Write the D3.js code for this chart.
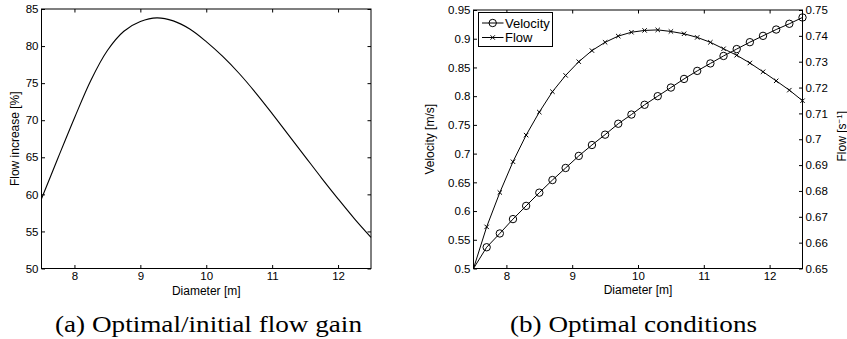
<!DOCTYPE html>
<html>
<head>
<meta charset="utf-8">
<script src="https://cdn.jsdelivr.net/npm/d3@7"></script>
<style>
  html, body { margin: 0; padding: 0; background: #fff; }
  svg { display: block; }
</style>
</head>
<body>
<script>
// Panel (a): flow increase vs diameter
const gainDiameter = [7.5, 7.75, 8.0, 8.25, 8.5, 8.75, 9.0, 9.25, 9.5, 9.75, 10.0,
  10.25, 10.5, 10.75, 11.0, 11.25, 11.5, 11.75, 12.0, 12.25, 12.5];
const gainPercent = [59.4, 64.9, 70.3, 75.4, 79.4, 82.0, 83.3, 83.8, 83.4, 82.3, 80.6,
  78.6, 76.3, 73.7, 70.9, 68.0, 65.1, 62.2, 59.4, 56.7, 54.2];

// Panel (b): optimal velocity and flow (first point has no marker)
const optDiameter = [7.5, 7.7, 7.9, 8.1, 8.3, 8.5, 8.7, 8.9, 9.1, 9.3, 9.5, 9.7, 9.9,
  10.1, 10.3, 10.5, 10.7, 10.9, 11.1, 11.3, 11.5, 11.7, 11.9, 12.1, 12.3, 12.5];
const optVelocity = [0.5, 0.537, 0.561, 0.586, 0.609, 0.632, 0.654, 0.675, 0.696, 0.715,
  0.733, 0.752, 0.768, 0.785, 0.800, 0.815, 0.830, 0.844, 0.857, 0.870, 0.882, 0.894,
  0.905, 0.916, 0.926, 0.937];
const optFlow = [0.65, 0.6661, 0.6794, 0.6913, 0.7016, 0.7105, 0.7184, 0.7247, 0.7300,
  0.7343, 0.7375, 0.7399, 0.7414, 0.7421, 0.7423, 0.7417, 0.7408, 0.7394, 0.7375, 0.7350,
  0.7325, 0.7295, 0.7261, 0.7226, 0.7190, 0.7149];

// Ticks
const xTicks = [8, 9, 10, 11, 12];
const gainTicks = [50, 55, 60, 65, 70, 75, 80, 85];
const velTicks = [0.5, 0.55, 0.6, 0.65, 0.7, 0.75, 0.8, 0.85, 0.9, 0.95];
const flowTicks = [0.65, 0.66, 0.67, 0.68, 0.69, 0.7, 0.71, 0.72, 0.73, 0.74, 0.75];

const captions = ["(a) Optimal/initial flow gain", "(b) Optimal conditions"];

const width = 847, height = 339;
const TICK = 3.5;
const sans = "'Liberation Sans', Arial, Helvetica, sans-serif";
const fmt = d => String(+d.toFixed(2));

const svg = d3.select("body").append("svg")
  .attr("width", width).attr("height", height)
  .attr("viewBox", [0, 0, width, height])
  .style("font-family", sans);

// box + inward ticks on all four sides
function frame(g, x, y, leftTicks, yRight, labelRight) {
  const [x0, x1] = x.range();
  const [y1, y0] = y.range();
  const style = sel => {
    sel.select(".domain").remove();
    sel.selectAll("line").attr("stroke", "#000").attr("stroke-width", 1);
    sel.selectAll("text").attr("fill", "#000").style("font-size", "11.5px").style("font-family", sans);
  };
  g.append("g").attr("transform", `translate(0,${y1})`)
    .call(d3.axisBottom(x).tickValues(xTicks).tickSize(-TICK).tickPadding(3).tickFormat(fmt)).call(style);
  g.append("g").attr("transform", `translate(0,${y0})`)
    .call(d3.axisTop(x).tickValues(xTicks).tickSize(-TICK).tickFormat("")).call(style);
  g.append("g").attr("transform", `translate(${x0},0)`)
    .call(d3.axisLeft(y).tickValues(leftTicks).tickSize(-TICK).tickPadding(3).tickFormat(fmt)).call(style);
  const r = g.append("g").attr("transform", `translate(${x1},0)`);
  if (labelRight) {
    r.call(d3.axisRight(yRight).tickValues(flowTicks).tickSize(-TICK).tickPadding(3).tickFormat(fmt)).call(style);
  } else {
    r.call(d3.axisRight(y).tickValues(leftTicks).tickSize(-TICK).tickFormat("")).call(style);
  }
  g.append("rect")
    .attr("x", x0).attr("y", y0).attr("width", x1 - x0).attr("height", y1 - y0)
    .attr("fill", "none").attr("stroke", "#000").attr("stroke-width", 1);
}

// ---------- Panel (a)
const xScaleA = d3.scaleLinear().domain([7.5, 12.5]).range([41.5, 371]);
const yScaleA = d3.scaleLinear().domain([50, 85]).range([268.5, 9]);
const gA = svg.append("g");

gA.append("path")
  .datum(gainDiameter.map((d, i) => [d, gainPercent[i]]))
  .attr("fill", "none").attr("stroke", "#000").attr("stroke-width", 1.1)
  .attr("d", d3.line().x(d => xScaleA(d[0])).y(d => yScaleA(d[1])).curve(d3.curveCatmullRom));

frame(gA, xScaleA, yScaleA, gainTicks, null, false);

gA.append("text")
  .attr("x", (41.5 + 371) / 2).attr("y", 294.5)
  .attr("text-anchor", "middle").style("font-size", "12px")
  .text("Diameter [m]");
gA.append("text")
  .attr("transform", `translate(19,${(9 + 268.5) / 2}) rotate(-90)`)
  .attr("text-anchor", "middle").style("font-size", "12px")
  .text("Flow increase [%]");

// ---------- Panel (b)
const xScaleB = d3.scaleLinear().domain([7.5, 12.5]).range([473.5, 802.5]);
const yScaleB = d3.scaleLinear().domain([0.5, 0.95]).range([268.5, 10]);
const yScaleF = d3.scaleLinear().domain([0.65, 0.75]).range([268.5, 10]);
const gB = svg.append("g");

const velPts = optDiameter.map((d, i) => [xScaleB(d), yScaleB(optVelocity[i])]);
const flowPts = optDiameter.map((d, i) => [xScaleB(d), yScaleF(optFlow[i])]);

gB.append("path").datum(velPts)
  .attr("fill", "none").attr("stroke", "#000").attr("stroke-width", 1)
  .attr("d", d3.line());
gB.append("path").datum(flowPts)
  .attr("fill", "none").attr("stroke", "#000").attr("stroke-width", 1)
  .attr("d", d3.line());

const circleMark = (sel, x, y) => sel.append("circle")
  .attr("cx", x).attr("cy", y).attr("r", 3.7)
  .attr("fill", "none").attr("stroke", "#000").attr("stroke-width", 1);
const crossMark = (sel, x, y) => sel.append("path")
  .attr("d", `M${x - 2.2},${y - 2.2}L${x + 2.2},${y + 2.2}M${x - 2.2},${y + 2.2}L${x + 2.2},${y - 2.2}`)
  .attr("stroke", "#000").attr("stroke-width", 1);

velPts.slice(1).forEach(p => circleMark(gB, p[0], p[1]));
flowPts.slice(1).forEach(p => crossMark(gB, p[0], p[1]));

frame(gB, xScaleB, yScaleB, velTicks, yScaleF, true);

gB.append("text")
  .attr("x", (473.5 + 802.5) / 2).attr("y", 293.5)
  .attr("text-anchor", "middle").style("font-size", "12px")
  .text("Diameter [m]");
gB.append("text")
  .attr("transform", `translate(434,${(10 + 268.5) / 2}) rotate(-90)`)
  .attr("text-anchor", "middle").style("font-size", "12px")
  .text("Velocity [m/s]");
const flowLabel = gB.append("text")
  .attr("transform", `translate(845.5,${(10 + 268.5) / 2 - 3}) rotate(-90)`)
  .attr("text-anchor", "middle").style("font-size", "12px");
flowLabel.append("tspan").text("Flow [s");
flowLabel.append("tspan").attr("dy", -4).style("font-size", "8px").text("\u22121");
flowLabel.append("tspan").attr("dy", 4).text("]");

// legend
const leg = gB.append("g");
leg.append("rect").attr("x", 478.5).attr("y", 12.5).attr("width", 74).attr("height", 34)
  .attr("fill", "#fff").attr("stroke", "#000").attr("stroke-width", 1);
const legendRows = [["Velocity", circleMark, 23], ["Flow", crossMark, 37.5]];
legendRows.forEach(([name, mark, cy]) => {
  leg.append("line").attr("x1", 482).attr("x2", 503.5).attr("y1", cy).attr("y2", cy)
    .attr("stroke", "#000").attr("stroke-width", 1);
  mark(leg, 492.7, cy);
  leg.append("text").attr("x", 505).attr("y", cy + 4.6)
    .style("font-size", "13px").text(name);
});

// ---------- captions
const capX = [208.5, 633.5];
const capW = [307, 247];
captions.forEach((c, i) => {
  svg.append("text")
    .attr("x", capX[i]).attr("y", 332)
    .attr("text-anchor", "middle")
    .attr("textLength", capW[i]).attr("lengthAdjust", "spacingAndGlyphs")
    .style("font-family", "'Liberation Serif', 'Times New Roman', serif")
    .style("font-size", "24px")
    .text(c);
});
</script>
</body>
</html>
